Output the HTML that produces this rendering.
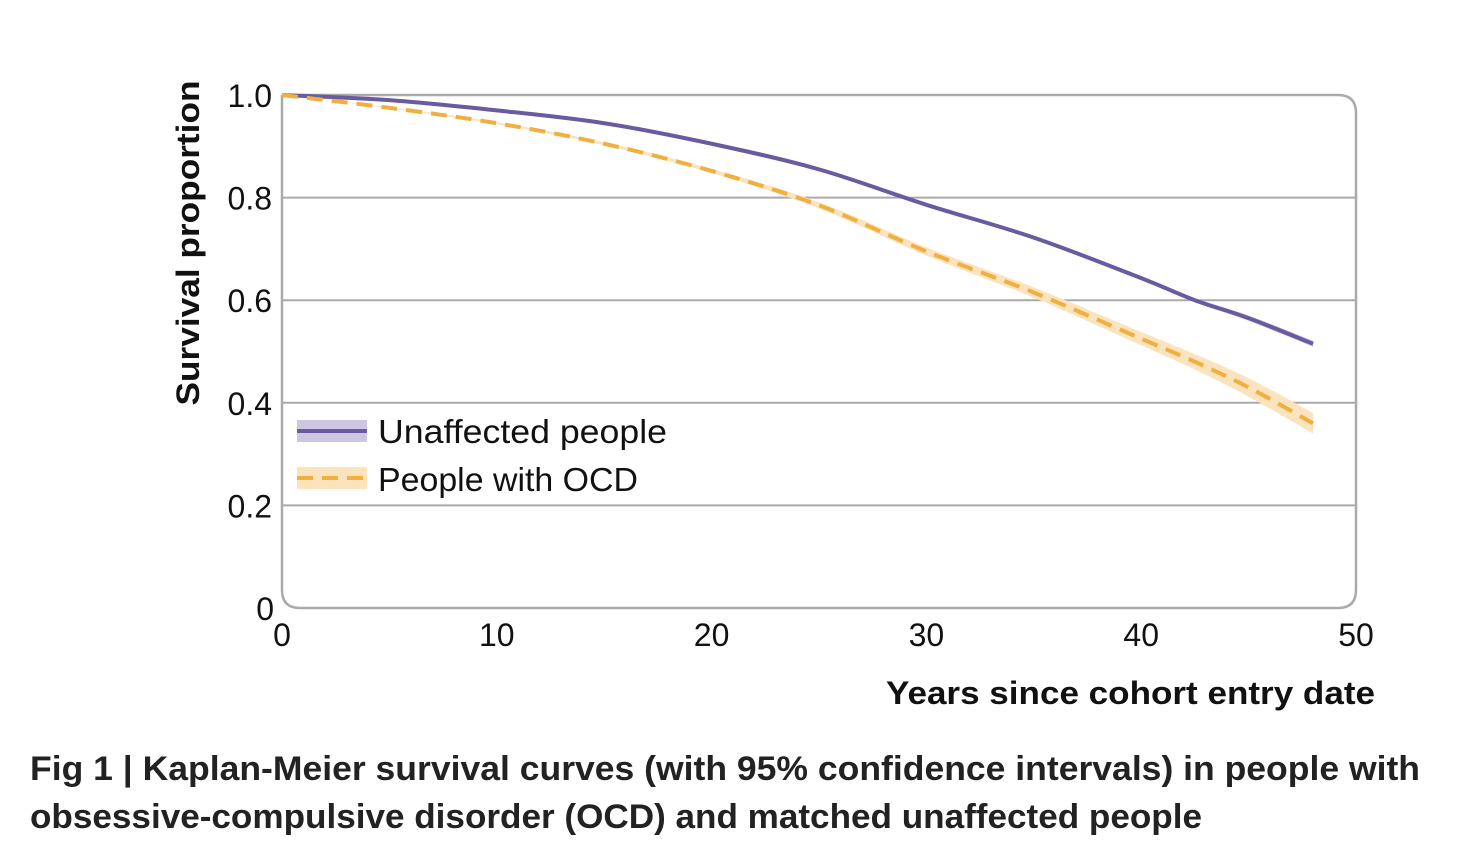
<!DOCTYPE html>
<html><head><meta charset="utf-8"><style>
body{margin:0;background:#fff;width:1478px;height:850px;overflow:hidden;font-family:"Liberation Sans",sans-serif}
</style></head><body>
<svg id="chart" width="1478" height="850" xmlns="http://www.w3.org/2000/svg" font-family="Liberation Sans, sans-serif"></svg>
<script>
const years=[0,5,10,15,20,25,30,35,40,42.5,45,48];
const unaffected=[1.0,0.99,0.97,0.945,0.905,0.855,0.786,0.722,0.643,0.6,0.565,0.515];
const unaffectedLo=[1.0,0.989,0.969,0.944,0.903,0.853,0.783,0.719,0.639,0.596,0.56,0.509];
const unaffectedHi=[1.0,0.991,0.971,0.946,0.907,0.857,0.789,0.725,0.647,0.604,0.57,0.521];
const ocd=[1.0,0.975,0.945,0.905,0.852,0.785,0.695,0.615,0.525,0.48,0.43,0.36];
const ocdLo=[1.0,0.974,0.943,0.902,0.848,0.779,0.687,0.605,0.512,0.465,0.412,0.34];
const ocdHi=[1.0,0.976,0.947,0.908,0.856,0.791,0.703,0.625,0.538,0.495,0.448,0.38];
const xTicks=[0,10,20,30,40,50];
const yTicks=[0,0.2,0.4,0.6,0.8,1.0];
const yTickLabels=["0","0.2","0.4","0.6","0.8","1.0"];

const NS="http://www.w3.org/2000/svg";
const svg=document.getElementById('chart');
const X0=282,X1=1356,Y0=608,Y1=95;
const sx=v=>X0+(X1-X0)*v/50;
const sy=v=>Y0-(Y0-Y1)*v;
function mk(tag,attrs,parent){const e=document.createElementNS(NS,tag);for(const k in attrs)e.setAttribute(k,attrs[k]);(parent||svg).appendChild(e);return e;}
function smooth(pts){
  let d='M'+pts[0][0]+','+pts[0][1];
  for(let i=0;i<pts.length-1;i++){
    const p0=pts[i-1]||pts[i],p1=pts[i],p2=pts[i+1],p3=pts[i+2]||p2;
    const c1=[p1[0]+(p2[0]-p0[0])/6,p1[1]+(p2[1]-p0[1])/6];
    const c2=[p2[0]-(p3[0]-p1[0])/6,p2[1]-(p3[1]-p1[1])/6];
    d+=` C${c1[0]},${c1[1]} ${c2[0]},${c2[1]} ${p2[0]},${p2[1]}`;
  }
  return d;
}

yTicks.forEach((t,i)=>{
  if(t>0&&t<1){const g=mk('line',{x1:X0,x2:X1,y1:sy(t),y2:sy(t),stroke:'#aaa','stroke-width':2});
  
  }
  const tx=mk('text',{x:t===0?274:272,y:sy(t)+(t===0?12:12),'text-anchor':'end','font-size':32,fill:'#111'});
  tx.textContent=yTickLabels[i];
  
  
});
const frame=mk('path',{d:`M${X0},${Y1} H${X1-18} Q${X1},${Y1} ${X1},${Y1+18} V${Y0-18} Q${X1},${Y0} ${X1-18},${Y0} H${X0+18} Q${X0},${Y0} ${X0},${Y0-18} V${Y1}`,fill:'none',stroke:'#aaa','stroke-width':2.5});


xTicks.forEach(t=>{
  const tx=mk('text',{x:sx(t),y:646,'text-anchor':'middle','font-size':32,fill:'#111'});
  tx.textContent=t;
  
  
});
function band(lo,hi,color,name){
  const up=years.map((y,i)=>[sx(y),sy(hi[i])]);
  const dn=years.map((y,i)=>[sx(y),sy(lo[i])]).reverse();
  let d=smooth(up)+' L'+smooth(dn).slice(1)+'Z';
  const p=mk('path',{d,fill:color});
  
  
}
function line(vals,color,dash,name){
  const p=mk('path',{d:smooth(years.map((y,i)=>[sx(y),sy(vals[i])])),fill:'none',stroke:color,'stroke-width':4,'stroke-dasharray':dash||'none','stroke-linejoin':'round'});
  
  
}
band(ocdLo,ocdHi,'#fbe3bd','ocd-ci-band');
band(unaffectedLo,unaffectedHi,'#cdc6e0','unaffected-ci-band');
line(unaffected,'#6a5aa0',null,'unaffected-curve');
line(ocd,'#f0b040','16 9','ocd-curve');

// legend
const l1=mk('rect',{x:297,y:420,width:70,height:22,fill:'#cdc6e0'});


mk('line',{x1:297,x2:367,y1:431,y2:431,stroke:'#6a5aa0','stroke-width':4});
const lt1=mk('text',{x:378,y:443,'font-size':33,fill:'#111',textLength:289,lengthAdjust:'spacingAndGlyphs'});lt1.textContent='Unaffected people';


const l2=mk('rect',{x:297,y:467,width:70,height:22,fill:'#fbe3bd'});


mk('line',{x1:297,x2:367,y1:478,y2:478,stroke:'#f0b040','stroke-width':4,'stroke-dasharray':'16 9'});
const lt2=mk('text',{x:378,y:491,'font-size':33,fill:'#111',textLength:260,lengthAdjust:'spacingAndGlyphs'});lt2.textContent='People with OCD';



const yt=mk('text',{x:0,y:0,transform:'translate(199,243) rotate(-90)','text-anchor':'middle','font-size':32,'font-weight':'bold',fill:'#111',textLength:325,lengthAdjust:'spacingAndGlyphs'});
yt.textContent='Survival proportion';


const xt=mk('text',{x:886,y:704,'font-size':32,'font-weight':'bold',fill:'#111',textLength:489,lengthAdjust:'spacingAndGlyphs'});
xt.textContent='Years since cohort entry date';


const c1=mk('text',{x:30,y:780,'font-size':34,'font-weight':'bold',fill:'#222',textLength:1390,lengthAdjust:'spacingAndGlyphs'});
c1.textContent='Fig 1 | Kaplan-Meier survival curves (with 95% confidence intervals) in people with';


const c2=mk('text',{x:30,y:828,'font-size':34,'font-weight':'bold',fill:'#222',textLength:1172,lengthAdjust:'spacingAndGlyphs'});
c2.textContent='obsessive-compulsive disorder (OCD) and matched unaffected people';


</script>
</body></html>
